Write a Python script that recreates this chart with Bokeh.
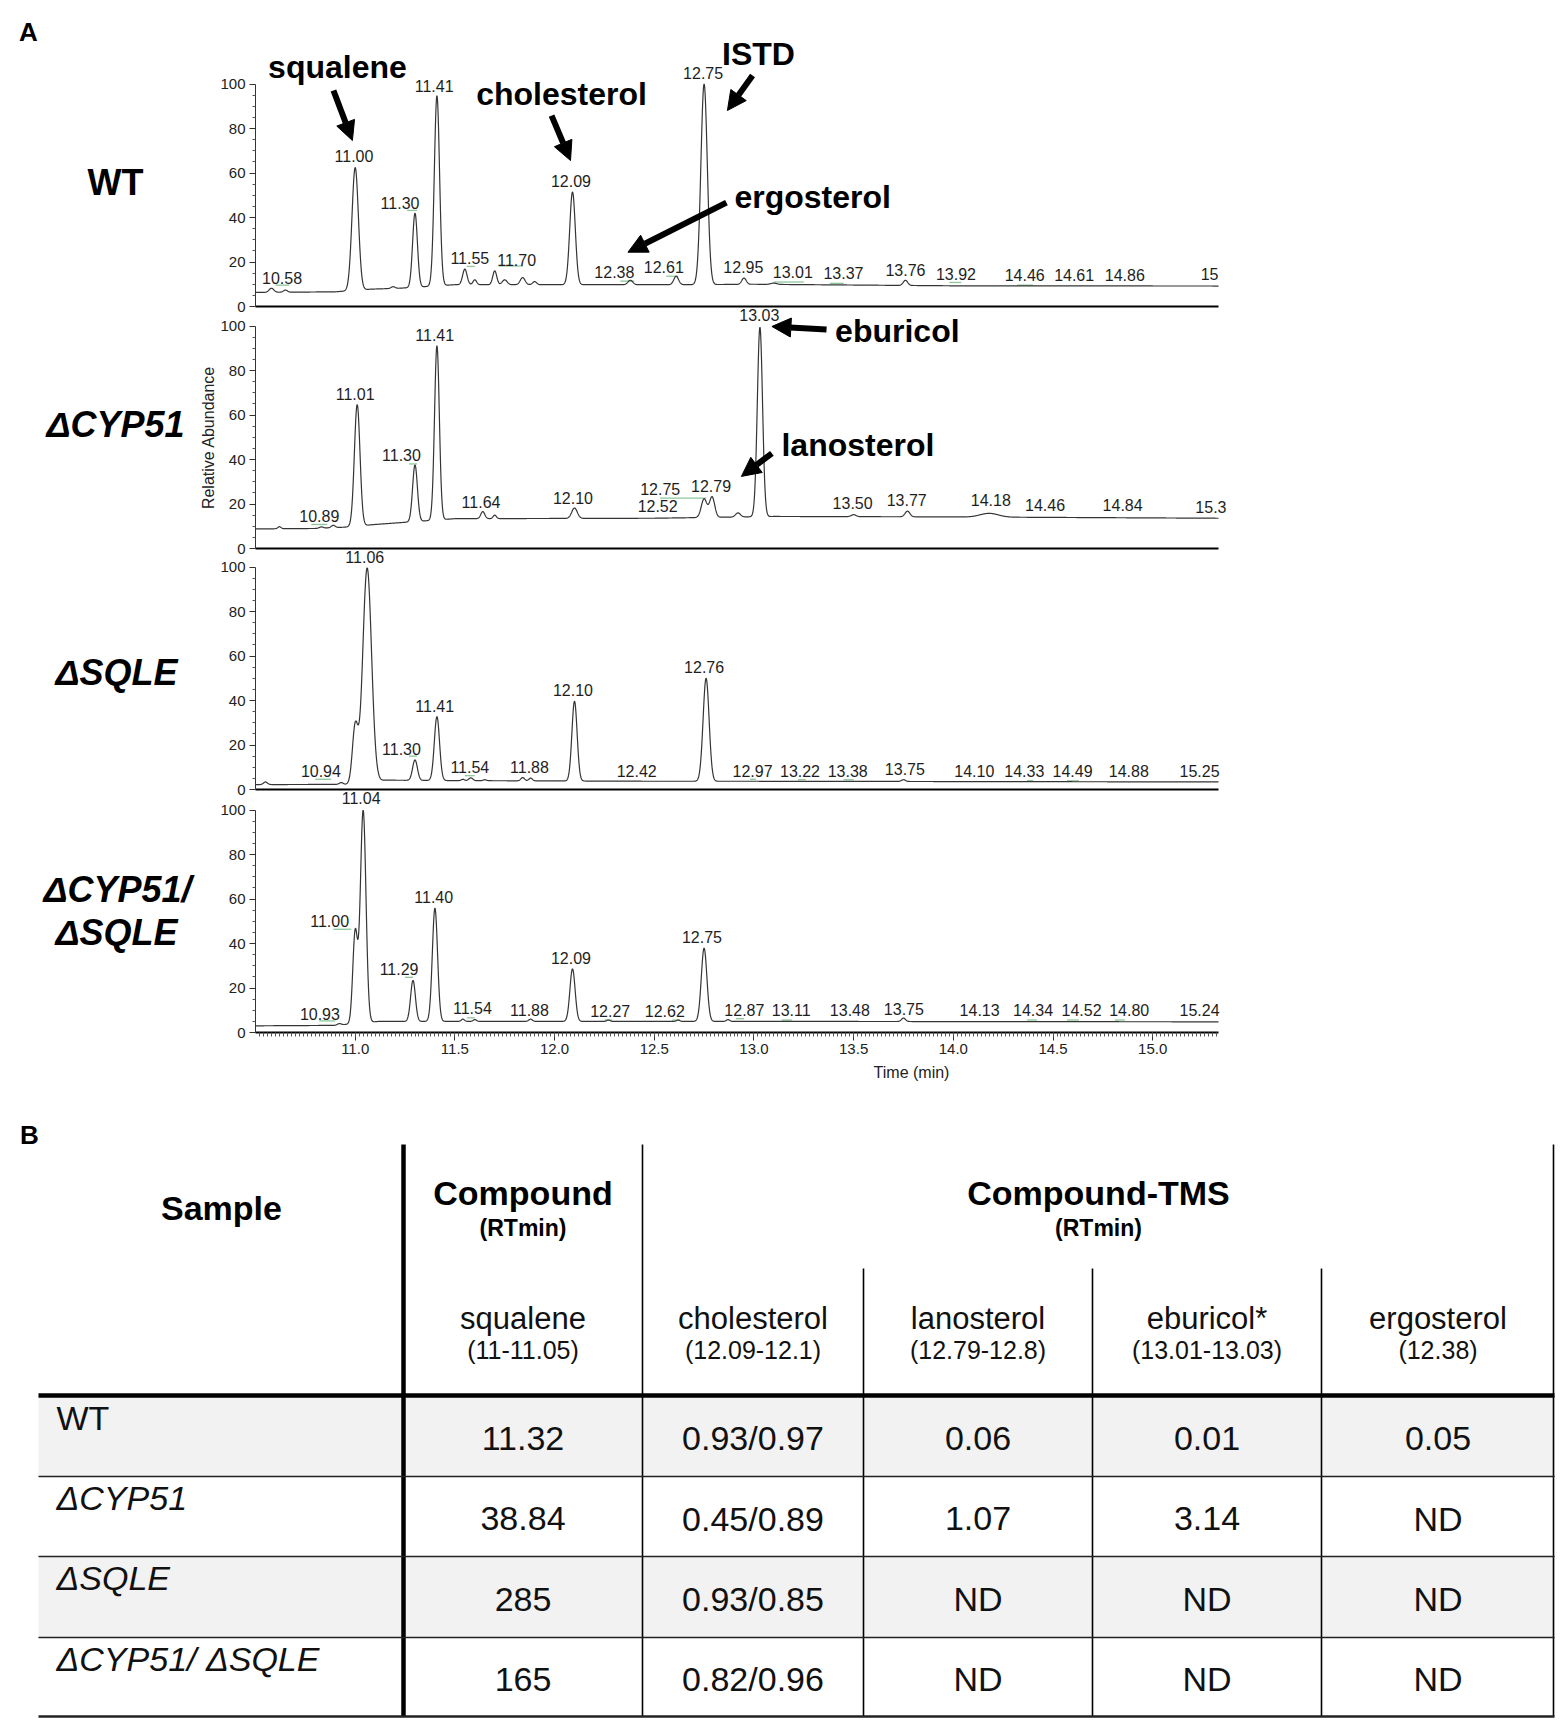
import numpy as np
from bokeh.plotting import figure
from bokeh.models import (Range1d, FixedTicker, PrintfTickFormatter, LinearAxis,
                          Arrow, NormalHead)
from bokeh.core.properties import value
from bokeh.embed import file_html
from bokeh.resources import INLINE

FONT = "Liberation Sans"

# ------------------------------------------------------------------ data
x_ticks = [11.0, 11.5, 12.0, 12.5, 13.0, 13.5, 14.0, 14.5, 15.0]
y_ticks = [0, 20, 40, 60, 80, 100]
y_minor = [5, 10, 15, 25, 30, 35, 45, 50, 55, 65, 70, 75, 85, 90, 95]

sample_names = ["WT", "ΔCYP51", "ΔSQLE", "ΔCYP51/ ΔSQLE"]

# WT chromatogram (baseline points and peaks: RT, apex %, width)
wt_base_t = [10.50, 10.90, 11.08, 11.22, 11.50, 12.00, 12.70, 13.00, 14.00, 15.33]
wt_base_y = [6.3, 6.6, 7.8, 8.2, 9.8, 9.8, 9.8, 10.0, 9.3, 9.2]
wt_rt = [10.58, 10.65, 11.00, 11.19, 11.30, 11.41, 11.55, 11.60, 11.70, 11.75, 11.84, 11.90,
         12.09, 12.38, 12.61, 12.75, 12.95, 13.10, 13.76]
wt_h = [8.2, 7.4, 62.5, 8.9, 42.0, 94.8, 16.8, 12.0, 16.0, 12.0, 13.0, 11.2,
        51.5, 11.8, 13.6, 100.0, 12.8, 10.5, 11.8]
wt_sig = [0.012, 0.010, 0.016, 0.010, 0.012, 0.013, 0.011, 0.009, 0.010, 0.012, 0.012, 0.010,
          0.014, 0.012, 0.012, 0.016, 0.011, 0.015, 0.011]
wt_lab = ["10.58", "11.00", "11.30", "11.41", "11.55", "11.70", "12.09", "12.38", "12.61", "12.75",
          "12.95", "13.01", "13.37", "13.76", "13.92", "14.46", "14.61", "14.86", "15"]
wt_lab_t = [10.633, 10.994, 11.225, 11.396, 11.575, 11.81, 12.082, 12.30, 12.548, 12.745,
            12.947, 13.195, 13.449, 13.76, 14.013, 14.358, 14.606, 14.86, 15.285]
wt_lab_y = [10.3, 64.9, 44.0, 96.8, 19.2, 18.4, 53.9, 13.2, 15.4, 102.3,
            15.4, 13.2, 12.4, 13.9, 12.0, 11.7, 11.7, 11.7, 12.0]
# integration marks (t0, t1, y)
wt_int = [(10.60, 10.67, 9.6), (11.26, 11.31, 43.2), (11.56, 11.60, 18.0), (11.72, 11.84, 18.2),
          (12.33, 12.40, 11.4), (12.56, 12.62, 13.6), (13.10, 13.25, 11.0), (13.38, 13.45, 10.4),
          (13.98, 14.04, 10.8), (14.32, 14.40, 9.6)]

# ΔCYP51 chromatogram
cyp_base_t = [10.50, 10.80, 10.95, 11.10, 11.50, 12.50, 13.10, 14.00, 15.33]
cyp_base_y = [8.8, 9.0, 9.6, 10.8, 13.4, 13.6, 14.4, 14.2, 13.6]
cyp_rt = [10.62, 10.83, 10.89, 11.01, 11.30, 11.41, 11.64, 11.70, 12.10, 12.75, 12.79, 12.92,
          13.03, 13.50, 13.77, 14.18]
cyp_h = [9.8, 9.7, 10.4, 64.7, 37.6, 91.2, 16.6, 15.0, 18.2, 22.3, 23.2, 16.0,
         99.5, 15.2, 16.8, 15.8]
cyp_sig = [0.008, 0.010, 0.010, 0.014, 0.012, 0.012, 0.010, 0.008, 0.014, 0.014, 0.013, 0.012,
           0.013, 0.012, 0.012, 0.045]
cyp_lab = ["10.89", "11.01", "11.30", "11.41", "11.64", "12.10", "12.75", "12.52", "12.79", "13.03",
           "13.50", "13.77", "14.18", "14.46", "14.84", "15.3"]
cyp_lab_t = [10.82, 11.0, 11.232, 11.399, 11.631, 12.092, 12.53, 12.517, 12.785, 13.027,
             13.495, 13.766, 14.188, 14.46, 14.849, 15.292]
cyp_lab_y = [12.3, 67.0, 39.6, 93.5, 18.6, 20.4, 24.3, 16.6, 25.6, 102.5,
             17.8, 19.3, 19.3, 17.1, 17.1, 16.3]
cyp_int = [(10.78, 10.86, 10.8), (11.27, 11.31, 38.0), (12.53, 12.76, 22.6)]

# ΔSQLE chromatogram
sqle_base_t = [10.50, 10.95, 11.15, 11.50, 12.50, 13.00, 15.33]
sqle_base_y = [2.2, 2.3, 4.2, 4.0, 3.7, 3.7, 3.4]
sqle_rt = [10.55, 10.93, 11.00, 11.06, 11.30, 11.41, 11.54, 11.58, 11.65, 11.84, 11.88, 12.10,
           12.76, 13.75]
sqle_h = [3.4, 3.1, 28.0, 99.6, 13.3, 32.8, 4.6, 5.2, 4.4, 5.4, 5.1, 39.7, 50.0, 4.4]
sqle_sig = [0.010, 0.010, 0.014, 0.022, 0.012, 0.013, 0.008, 0.010, 0.008, 0.009, 0.009, 0.013,
            0.015, 0.010]
sqle_lab = ["10.94", "11.06", "11.30", "11.41", "11.54", "11.88", "12.10", "12.42", "12.76", "12.97",
            "13.22", "13.38", "13.75", "14.10", "14.33", "14.49", "14.88", "15.25"]
sqle_lab_t = [10.828, 11.048, 11.232, 11.399, 11.575, 11.874, 12.092, 12.412, 12.75, 12.993,
              13.231, 13.47, 13.757, 14.105, 14.356, 14.598, 14.88, 15.235]
sqle_lab_y = [6.0, 102.2, 15.7, 35.2, 7.8, 7.5, 42.2, 6.0, 52.4, 6.0,
              6.0, 6.0, 6.5, 6.0, 6.0, 6.0, 6.0, 6.0]
sqle_int = [(10.80, 10.88, 4.6), (11.27, 11.31, 15.0), (11.55, 11.60, 6.2), (12.98, 13.01, 4.6),
            (13.22, 13.26, 4.4), (13.45, 13.50, 4.4), (14.37, 14.40, 4.0), (14.57, 14.63, 3.9)]

# ΔCYP51/ΔSQLE chromatogram
dko_base_t = [10.50, 10.90, 11.12, 11.50, 13.00, 15.33]
dko_base_y = [3.0, 3.2, 5.0, 5.0, 5.0, 4.8]
dko_rt = [10.92, 11.00, 11.04, 11.29, 11.40, 11.54, 11.60, 11.88, 12.09, 12.27, 12.62, 12.75,
          12.87, 13.75]
dko_h = [4.0, 45.0, 99.8, 23.4, 55.9, 6.0, 5.8, 6.0, 28.6, 5.6, 5.6, 37.9, 5.8, 6.5]
dko_sig = [0.010, 0.012, 0.014, 0.012, 0.013, 0.008, 0.008, 0.009, 0.013, 0.008, 0.008, 0.014,
           0.008, 0.010]
dko_lab = ["10.93", "11.04", "11.00", "11.29", "11.40", "11.54", "11.88", "12.09", "12.27", "12.62",
           "12.75", "12.87", "13.11", "13.48", "13.75", "14.13", "14.34", "14.52", "14.80", "15.24"]
dko_lab_t = [10.823, 11.03, 10.872, 11.22, 11.394, 11.588, 11.874, 12.082, 12.279, 12.553,
             12.739, 12.952, 13.187, 13.481, 13.752, 14.132, 14.40, 14.643, 14.882, 15.235]
dko_lab_y = [5.7, 102.8, 47.8, 26.1, 58.3, 8.4, 7.6, 31.1, 7.2, 7.2,
             40.3, 7.6, 7.6, 7.6, 8.0, 7.6, 7.6, 7.6, 7.6, 7.6]
dko_int = [(10.82, 10.90, 5.2), (10.89, 10.98, 46.4), (11.25, 11.29, 24.8), (11.56, 11.60, 6.6),
           (12.25, 12.29, 5.6), (12.59, 12.63, 5.6), (12.91, 12.95, 6.2), (13.14, 13.19, 5.6),
           (14.37, 14.42, 5.6), (14.57, 14.63, 5.6), (14.81, 14.86, 5.6)]

# compound call-outs (baseline positions) and arrows (x0, y0, x1, y1) in time / % units
wt_notes = ["squalene", "cholesterol", "ISTD", "ergosterol"]
wt_notes_t = [10.911, 12.035, 13.023, 12.902]
wt_notes_y = [102.8, 90.3, 108.3, 44.2]
wt_notes_align = ["center", "center", "center", "left"]
wt_arrows = [(10.891, 97.1, 10.986, 74.6), (11.985, 85.8, 12.08, 65.6),
             (12.993, 103.8, 12.867, 88.1), (12.862, 46.7, 12.368, 24.4)]
cyp_notes = ["eburicol", "lanosterol"]
cyp_notes_t = [13.407, 13.138]
cyp_notes_y = [92.7, 41.3]
cyp_notes_align = ["left", "left"]
cyp_arrows = [(13.364, 98.4, 13.09, 99.8), (13.09, 42.8, 12.937, 32.4)]

# table (panel B)
tbl_compounds = ["squalene", "cholesterol", "lanosterol", "eburicol*", "ergosterol"]
tbl_rt = ["(11-11.05)", "(12.09-12.1)", "(12.79-12.8)", "(13.01-13.03)", "(12.38)"]
tbl_squalene = ["11.32", "38.84", "285", "165"]
tbl_cholesterol = ["0.93/0.97", "0.45/0.89", "0.93/0.85", "0.82/0.96"]
tbl_lanosterol = ["0.06", "1.07", "ND", "ND"]
tbl_eburicol = ["0.01", "3.14", "ND", "ND"]
tbl_ergosterol = ["0.05", "ND", "ND", "ND"]

# ------------------------------------------------------------------ layout constants
T0, T1 = 10.5, 15.33
PAGE_L, PAGE_R, PAGE_T, PAGE_B = 0, 1560, 0, 1720
AX_L, AX_R = 255, 1218          # page x of the time axis ends
PXU = 2.225                     # pixels per % unit
PXM = (AX_R - AX_L) / (T1 - T0)  # pixels per minute
ZERO = {"wt": 306, "cyp": 548, "sqle": 789, "dko": 1032}
LAB_PX, NOTE_PX = 16, 32         # font sizes (px)


def px_to_t(px):
    return T0 + (px - AX_L) / PXM


p = figure(title=None, frame_width=PAGE_R - PAGE_L, frame_height=PAGE_B - PAGE_T,
           x_range=Range1d(PAGE_L, PAGE_R), y_range=Range1d(PAGE_B, PAGE_T),
           min_border=0, x_axis_location=None, y_axis_location=None,
           output_backend="svg", toolbar_location=None)
p.outline_line_color = None
p.grid.visible = False
p.extra_x_ranges = {"time": Range1d(px_to_t(PAGE_L), px_to_t(PAGE_R))}
p.extra_y_ranges = {k: Range1d((z - PAGE_B) / PXU, (z - PAGE_T) / PXU) for k, z in ZERO.items()}


def build_trace(base_t, base_y, rt, h, sig):
    t = np.linspace(T0, T1, 3000)
    y = np.interp(t, base_t, base_y)
    for r, hh, s in zip(rt, h, sig):
        amp = hh - np.interp(r, base_t, base_y)
        y = y + amp * np.exp(-0.5 * ((t - r) / s) ** 2)
    return t, y


def panel_axes(name, last=False):
    ya = LinearAxis(x_range_name="time", y_range_name=name, fixed_location=T0,
                    ticker=FixedTicker(ticks=y_ticks, minor_ticks=y_minor), bounds=(0, 100))
    ya.major_tick_out = 6
    ya.major_tick_in = 0
    ya.minor_tick_out = 3
    ya.minor_tick_in = 0
    ya.axis_line_color = "#333333"
    ya.major_tick_line_color = "#333333"
    ya.minor_tick_line_color = "#555555"
    ya.major_label_text_font = FONT
    ya.major_label_text_font_size = "15px"
    ya.major_label_text_color = "#222222"
    ya.major_label_standoff = 4
    p.add_layout(ya, "left")
    xa = LinearAxis(x_range_name="time", y_range_name=name, fixed_location=0, bounds=(T0, T1))
    xa.axis_line_width = 2
    xa.axis_line_color = "black"
    if last:
        minors = [round(v, 2) for v in np.arange(10.52, 15.33, 0.02)]
        xa.ticker = FixedTicker(ticks=x_ticks, minor_ticks=minors)
        xa.formatter = PrintfTickFormatter(format="%.1f")
        xa.major_tick_out = 8
        xa.major_tick_in = 0
        xa.minor_tick_out = 4
        xa.minor_tick_in = 0
        xa.major_tick_line_color = "#333333"
        xa.minor_tick_line_color = "#555555"
        xa.major_label_text_font = FONT
        xa.major_label_text_font_size = "15px"
        xa.major_label_text_color = "#222222"
        xa.major_label_standoff = 3
    else:
        xa.ticker = FixedTicker(ticks=[], minor_ticks=[])
        xa.major_tick_line_color = None
        xa.minor_tick_line_color = None
        xa.major_label_text_font_size = "0px"
    p.add_layout(xa, "below")


def add_trace(name, base_t, base_y, rt, h, sig, lab, lab_t, lab_y, marks):
    t, y = build_trace(base_t, base_y, rt, h, sig)
    p.segment(x0=[m[0] for m in marks], y0=[m[2] for m in marks],
              x1=[m[1] for m in marks], y1=[m[2] for m in marks],
              line_color="#8cc79a", line_width=1.3, x_range_name="time", y_range_name=name)
    p.line(t, y, line_color="#353535", line_width=1.2, x_range_name="time", y_range_name=name)
    mid = 0.35 * LAB_PX / PXU    # baseline -> text middle
    p.text(x=lab_t, y=[v + mid for v in lab_y], text=lab, text_align="center",
           text_baseline="middle", text_font=value(FONT), text_font_size=f"{LAB_PX}px",
           text_color="#1e1e1e", x_range_name="time", y_range_name=name)


def add_notes(name, notes, nt, ny, aligns, arrows):
    mid = 0.35 * NOTE_PX / PXU
    for s, x, y, a in zip(notes, nt, ny, aligns):
        p.text(x=[x], y=[y + mid], text=[s], text_align=a, text_baseline="middle",
               text_font=value(FONT), text_font_size=f"{NOTE_PX}px", text_font_style="bold",
               text_color="black", x_range_name="time", y_range_name=name)
    for x0, y0, x1, y1 in arrows:
        p.add_layout(Arrow(end=NormalHead(size=19, fill_color="black", line_color="black"),
                           x_start=x0, y_start=y0, x_end=x1, y_end=y1,
                           line_width=6, line_color="black",
                           x_range_name="time", y_range_name=name))


def page_text(x, y, s, size, style="normal", align="center", baseline="middle",
              color="black", angle=0.0):
    p.text(x=x if isinstance(x, list) else [x], y=y if isinstance(y, list) else [y],
           text=s if isinstance(s, list) else [s], text_align=align, text_baseline=baseline,
           text_font=value(FONT), text_font_size=size, text_font_style=style,
           text_color=color, angle=angle)


# ------------------------------------------------------------------ panel A
panel_axes("wt")
panel_axes("cyp")
panel_axes("sqle")
panel_axes("dko", last=True)

add_trace("wt", wt_base_t, wt_base_y, wt_rt, wt_h, wt_sig, wt_lab, wt_lab_t, wt_lab_y, wt_int)
add_trace("cyp", cyp_base_t, cyp_base_y, cyp_rt, cyp_h, cyp_sig, cyp_lab, cyp_lab_t, cyp_lab_y, cyp_int)
add_trace("sqle", sqle_base_t, sqle_base_y, sqle_rt, sqle_h, sqle_sig, sqle_lab, sqle_lab_t, sqle_lab_y,
          sqle_int)
add_trace("dko", dko_base_t, dko_base_y, dko_rt, dko_h, dko_sig, dko_lab, dko_lab_t, dko_lab_y, dko_int)
add_notes("wt", wt_notes, wt_notes_t, wt_notes_y, wt_notes_align, wt_arrows)
add_notes("cyp", cyp_notes, cyp_notes_t, cyp_notes_y, cyp_notes_align, cyp_arrows)

page_text(28, 31, "A", "26px", style="bold")
page_text(115, 182, sample_names[0], "36px", style="bold")
page_text(115, 424, sample_names[1], "36px", style="bold italic")
page_text(116, 672, sample_names[2], "36px", style="bold italic")
page_text(117, 889, "ΔCYP51/", "36px", style="bold italic")
page_text(116, 932, "ΔSQLE", "36px", style="bold italic")
page_text(208, 437, "Relative Abundance", "16px", color="#222222", angle=np.pi / 2)
page_text(911, 1072, "Time (min)", "16px", color="#222222")

# ------------------------------------------------------------------ panel B (table)
col_x = [38, 403, 642, 863, 1092, 1321, 1553]
col_c = [221, 522.5, 752.5, 977.5, 1206.5, 1437.5]
row_y = [1395, 1476, 1556, 1637, 1716]
head_top, sub_top = 1144, 1268

p.quad(left=[38, 38], right=[1554, 1554], top=[row_y[0], row_y[2]], bottom=[row_y[1], row_y[3]],
       fill_color="#f2f2f2", line_color=None)
p.segment(x0=[col_x[1]], y0=[head_top], x1=[col_x[1]], y1=[row_y[-1]], line_color="black", line_width=4.5)
p.segment(x0=[col_x[2], col_x[6]], y0=[head_top, head_top], x1=[col_x[2], col_x[6]],
          y1=[row_y[-1], row_y[-1]], line_color="black", line_width=1.6)
p.segment(x0=col_x[3:6], y0=[sub_top] * 3, x1=col_x[3:6], y1=[row_y[-1]] * 3,
          line_color="black", line_width=1.6)
p.segment(x0=[38], y0=[row_y[0]], x1=[1554], y1=[row_y[0]], line_color="black", line_width=4.5)
p.segment(x0=[38] * 3, y0=row_y[1:4], x1=[1554] * 3, y1=row_y[1:4], line_color="#222222", line_width=1.6)
p.segment(x0=[38], y0=[row_y[4]], x1=[1554], y1=[row_y[4]], line_color="#222222", line_width=2.5)

page_text(29, 1134, "B", "26px", style="bold")
page_text(col_c[0], 1207, "Sample", "34px", style="bold")
page_text([col_c[1], 1098], [1192, 1192], ["Compound", "Compound-TMS"], "34px", style="bold")
page_text([col_c[1], 1098], [1227, 1227], ["(RTmin)", "(RTmin)"], "23px", style="bold")
page_text(col_c[1:], [1318] * 5, tbl_compounds, "31px", color="#111111")
page_text(col_c[1:], [1349] * 5, tbl_rt, "25px", color="#111111")

page_text(56, row_y[0] + 22, sample_names[0], "34px", align="left", color="#111111")
page_text([56] * 3, [r + 21 for r in row_y[1:4]], sample_names[1:], "34px", style="italic",
          align="left", color="#111111")
row_c = [(row_y[i] + row_y[i + 1]) / 2 + 2 for i in range(4)]
for c, vals in zip(col_c[1:], [tbl_squalene, tbl_cholesterol, tbl_lanosterol, tbl_eburicol, tbl_ergosterol]):
    page_text([c] * 4, row_c, vals, "34px", color="#111111")

open("out.html", "w").write(file_html(p, INLINE))
